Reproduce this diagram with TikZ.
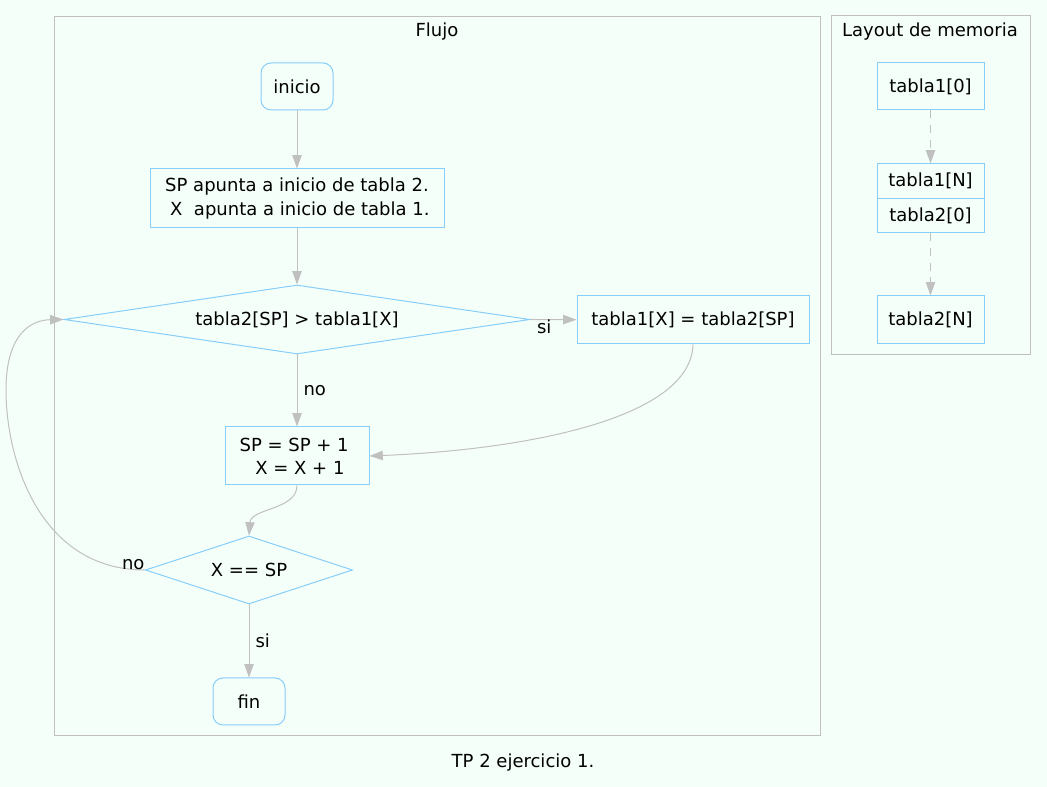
\documentclass[tikz,border=0pt]{standalone}
\usepackage{fontspec}
\setmainfont{DejaVu Sans}
\usetikzlibrary{shapes.geometric}
\usetikzlibrary{arrows.meta}
\definecolor{mint}{HTML}{F5FFFA}
\definecolor{skyb}{HTML}{87CEFA}
\definecolor{silv}{HTML}{C0C0C0}
\tikzset{
    boxnode/.style = {rectangle, draw=skyb, align=center, inner sep=0pt},
    roundnode/.style = {rectangle, rounded corners=7.5pt, draw=skyb, inner sep=0pt, minimum width=54pt, minimum height=35.25pt},
    decnode/.style = {diamond, draw=skyb, inner sep=0pt},
}
\begin{document}
\begin{tikzpicture}[
	x=0.75pt, y=-0.75pt,
	line width=0.75pt,
	font=\fontsize{13.5}{17.5}\selectfont
]
\tikzset{
    edgen/.style = {-{Triangle[length=10pt,width=7pt]}, color=silv},
    edged/.style = {edgen, dash pattern=on 6pt off 5pt},
    cluster/.style = {draw=silv},
    lbl/.style = {inner sep=1.5pt, text=black},
    lblr/.style = {lbl, right, inner sep=4.5pt},
}
\fill[mint] (0,0) rectangle (1047,787);
\useasboundingbox (0,0) rectangle (1047,787);
%
\draw[cluster] (54,17) rectangle (820,736);
\draw[cluster] (831,16) rectangle (1030,355);
\node at (437,32) (tflujo) {Flujo};
\node at (930,32) (tmem) {Layout de memoria};
\node at (523,763) (tcap) {TP 2 ejercicio 1.};
%
\node[roundnode] at (297,86.5) (ini) {inicio};
\node[boxnode, minimum width=220.5pt, minimum height=44.25pt] at (297,198.5) (init) {SP apunta a inicio de tabla 2.\\\hspace*{.32em}X\ \ apunta a inicio de tabla 1.};
\node[decnode, aspect=6.75, minimum width=349.5pt, minimum height=51.75pt] at (297,319.5) (cmp) {tabla2[SP] > tabla1[X]};
\node[boxnode, minimum width=174pt, minimum height=36pt] at (693,320) (asig) {tabla1[X] = tabla2[SP]};
\node[boxnode, minimum width=108pt, minimum height=43.5pt] at (297,456) (inc) {SP = SP + 1\hspace*{.32em}\\\hspace*{.32em}X = X + 1};
\node[decnode, aspect=3.04, minimum width=155.25pt, minimum height=51pt] at (249,570) (fincmp) {X == SP};
\node[roundnode] at (249,701.5) (fin) {fin};
%
\node[boxnode, minimum width=80.25pt, minimum height=35.25pt] at (930.5,86.5) (ta) {tabla1[0]};
\node[boxnode, minimum width=80.25pt, minimum height=25.875pt] at (930.5,181.25) (tb) {tabla1[N]};
\node[boxnode, minimum width=80.25pt, minimum height=25.875pt] at (930.5,215.75) (tc) {tabla2[0]};
\node[boxnode, minimum width=80.25pt, minimum height=36pt] at (930.5,320) (td) {tabla2[N]};
%
\draw[edgen] (ini) edge (init);
\draw[edgen] (init) edge (cmp);
\draw[edgen] (cmp.east) -- node[lbl, pos=0.3, below, inner sep=0pt] {si} (asig);
\draw[edgen] (cmp) edge node[lblr] {no} (inc);
\draw[edgen] (asig.south) .. controls (691,420) and (520,450) .. (inc.east);
\draw[edgen] (inc.south) .. controls (297,510) and (251,508) .. (fincmp.north);
\draw[edgen] (fincmp.west) node[lbl, above left, inner sep=0pt] {no}
    .. controls (40,570) and (6,460) .. (6,390)
    .. controls (6,335) and (30,320) .. (cmp.west);
\draw[edgen] (fincmp) edge node[lblr] {si} (fin);
%
\draw[edged] (ta) edge (tb);
\draw[edged] (tc) edge (td);
\end{tikzpicture}
\end{document}
